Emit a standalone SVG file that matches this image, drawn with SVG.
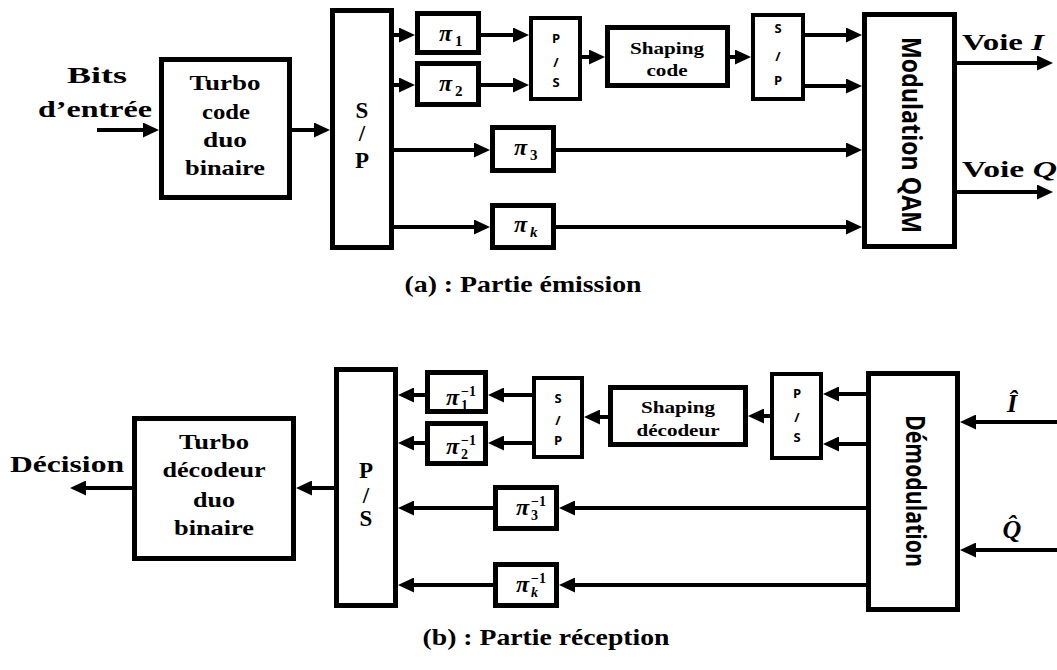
<svg xmlns="http://www.w3.org/2000/svg" width="1057" height="670" viewBox="0 0 1057 670">
<style>
.box{fill:#fff;stroke:#000;stroke-width:5}
.sb{fill:#fff;stroke:#000;stroke-width:4}
.c{fill:none;stroke:#000;stroke-width:4}
.t{font-family:"Liberation Serif","Times New Roman",Tinos,"Nimbus Roman",serif;font-weight:700;fill:#000;text-anchor:middle}
.s{font-family:"Open Sans","Liberation Sans",sans-serif;font-weight:700;fill:#000;text-anchor:middle}
.m{font-family:"Liberation Serif","Times New Roman",Tinos,serif;font-weight:700;font-style:italic;fill:#000}
.n{font-family:"Liberation Serif","Times New Roman",Tinos,serif;font-weight:700;fill:#000}
</style>
<defs>
<marker id="ah" markerUnits="userSpaceOnUse" markerWidth="16" markerHeight="15" refX="8" refY="7.5" orient="auto">
<path d="M0,0 L16,7.5 L0,15 z" fill="#000"/>
</marker>
</defs>
<g id="connectors" class="c" marker-end="url(#ah)">
<path d="M97,130 H151"/>
<path d="M292,130 H322"/>
<path d="M394,35 H407"/>
<path d="M394,85 H407"/>
<path d="M481,35 H521"/>
<path d="M481,85 H521"/>
<path d="M582,57 H597"/>
<path d="M730,57 H743"/>
<path d="M805,35 H854"/>
<path d="M805,86 H854"/>
<path d="M394,150 H482"/>
<path d="M556,150 H854"/>
<path d="M394,227 H482"/>
<path d="M556,227 H854"/>
<path d="M957,63 H1045"/>
<path d="M957,192 H1045"/>
<path d="M132,488 H78"/>
<path d="M334,488 H304"/>
<path d="M425,395 H406"/>
<path d="M425,443 H406"/>
<path d="M532,395 H496"/>
<path d="M532,443 H496"/>
<path d="M608,417 H592"/>
<path d="M770,416 H756"/>
<path d="M866,394 H831"/>
<path d="M866,444 H831"/>
<path d="M866,508 H567"/>
<path d="M493,508 H406"/>
<path d="M866,585 H567"/>
<path d="M493,585 H406"/>
<path d="M1057,422 H968"/>
<path d="M1057,550 H968"/>
</g>
<g id="input-label">
<text class="t" x="97" y="83" font-size="24" textLength="60" lengthAdjust="spacingAndGlyphs">Bits</text>
<text class="t" x="95" y="117" font-size="24" textLength="114" lengthAdjust="spacingAndGlyphs">d’entrée</text>
</g>
<g id="turbo-code">
<rect class="box" x="161.5" y="59.5" width="128" height="138"/>
<text class="t" x="225" y="90" font-size="21" textLength="71" lengthAdjust="spacingAndGlyphs">Turbo</text>
<text class="t" x="226" y="119" font-size="21" textLength="48" lengthAdjust="spacingAndGlyphs">code</text>
<text class="t" x="225" y="147" font-size="21" textLength="44" lengthAdjust="spacingAndGlyphs">duo</text>
<text class="t" x="225" y="175" font-size="21" textLength="80" lengthAdjust="spacingAndGlyphs">binaire</text>
</g>
<g id="sp-emission">
<rect class="box" x="332.5" y="10.5" width="59" height="237"/>
<text class="t" x="362" y="118" font-size="23">S</text>
<text class="t" x="362" y="141" font-size="23">/</text>
<text class="t" x="362" y="168" font-size="23">P</text>
</g>
<g id="pi1">
<rect class="box" x="417.5" y="13.5" width="61" height="39"/>
<text class="m" x="439" y="41" font-size="24">π</text>
<text class="n" x="455" y="46" font-size="15">1</text>
</g>
<g id="pi2">
<rect class="box" x="417.5" y="63.5" width="61" height="41"/>
<text class="m" x="439" y="91" font-size="24">π</text>
<text class="n" x="455" y="96" font-size="15">2</text>
</g>
<g id="ps-small">
<rect class="sb" x="531" y="18" width="49" height="81"/>
<text class="s" x="556" y="43" font-size="13">P</text>
<text class="s" x="556" y="67" font-size="13">/</text>
<text class="s" x="556" y="87" font-size="13">S</text>
</g>
<g id="shaping-code">
<rect class="box" x="607.5" y="27.5" width="120" height="58"/>
<text class="t" x="667" y="54" font-size="17" textLength="74" lengthAdjust="spacingAndGlyphs">Shaping</text>
<text class="t" x="667" y="76" font-size="17" textLength="41" lengthAdjust="spacingAndGlyphs">code</text>
</g>
<g id="sp-small">
<rect class="sb" x="753" y="15" width="50" height="84"/>
<text class="s" x="778" y="33" font-size="13">S</text>
<text class="s" x="778" y="61" font-size="13">/</text>
<text class="s" x="778" y="85" font-size="13">P</text>
</g>
<g id="pi3">
<rect class="box" x="492.5" y="127.5" width="61" height="43"/>
<text class="m" x="514" y="155" font-size="24">π</text>
<text class="n" x="530" y="160" font-size="15">3</text>
</g>
<g id="pik">
<rect class="box" x="492.5" y="205.5" width="61" height="42"/>
<text class="m" x="514" y="232" font-size="24">π</text>
<text class="m" x="530" y="237" font-size="15">k</text>
</g>
<g id="modulation-qam">
<rect class="box" x="864.5" y="14.5" width="90" height="232"/>
<text class="s" transform="translate(902,135) rotate(90)" font-size="26" textLength="196" lengthAdjust="spacingAndGlyphs">Modulation QAM</text>
</g>
<g id="outputs">
<text class="t" x="962" y="50" font-size="24" style="text-anchor:start" textLength="82" lengthAdjust="spacingAndGlyphs">Voie <tspan font-style="italic">I</tspan></text>
<text class="t" x="962" y="177" font-size="24" style="text-anchor:start" textLength="95" lengthAdjust="spacingAndGlyphs">Voie <tspan font-style="italic">Q</tspan></text>
</g>
<g id="caption-a">
<text class="t" x="523" y="292" font-size="24" textLength="237" lengthAdjust="spacingAndGlyphs">(a) : Partie émission</text>
</g>
<g id="decision-label">
<text class="t" x="67" y="472" font-size="24" textLength="114" lengthAdjust="spacingAndGlyphs">Décision</text>
</g>
<g id="turbo-decodeur">
<rect class="box" x="134.5" y="418.5" width="159" height="140"/>
<text class="t" x="214" y="449" font-size="21" textLength="70" lengthAdjust="spacingAndGlyphs">Turbo</text>
<text class="t" x="214" y="477" font-size="21" textLength="103" lengthAdjust="spacingAndGlyphs">décodeur</text>
<text class="t" x="214" y="507" font-size="21" textLength="42" lengthAdjust="spacingAndGlyphs">duo</text>
<text class="t" x="214" y="535" font-size="21" textLength="80" lengthAdjust="spacingAndGlyphs">binaire</text>
</g>
<g id="ps-reception">
<rect class="box" x="336.5" y="369.5" width="59" height="236"/>
<text class="t" x="366" y="478" font-size="23">P</text>
<text class="t" x="366" y="503" font-size="23">/</text>
<text class="t" x="366" y="526" font-size="23">S</text>
</g>
<g id="pi1-inv">
<rect class="box" x="427.5" y="372.5" width="58" height="39"/>
<text class="m" x="446" y="405" font-size="24">π</text>
<text class="n" x="461" y="396" font-size="14">−1</text>
<text class="n" x="461" y="410" font-size="14">1</text>
</g>
<g id="pi2-inv">
<rect class="box" x="427.5" y="423.5" width="58" height="40"/>
<text class="m" x="446" y="454" font-size="24">π</text>
<text class="n" x="461" y="445" font-size="14">−1</text>
<text class="n" x="461" y="459" font-size="14">2</text>
</g>
<g id="sp-reception">
<rect class="sb" x="534" y="378" width="48" height="79"/>
<text class="s" x="558" y="403" font-size="13">S</text>
<text class="s" x="558" y="425" font-size="13">/</text>
<text class="s" x="558" y="445" font-size="13">P</text>
</g>
<g id="shaping-decodeur">
<rect class="box" x="610.5" y="387.5" width="135" height="57"/>
<text class="t" x="678" y="413" font-size="17" textLength="74" lengthAdjust="spacingAndGlyphs">Shaping</text>
<text class="t" x="678" y="436" font-size="17" textLength="83" lengthAdjust="spacingAndGlyphs">décodeur</text>
</g>
<g id="ps-reception-small">
<rect class="sb" x="772" y="374" width="49" height="84"/>
<text class="s" x="797" y="398" font-size="13">P</text>
<text class="s" x="797" y="422" font-size="13">/</text>
<text class="s" x="797" y="442" font-size="13">S</text>
</g>
<g id="pi3-inv">
<rect class="box" x="495.5" y="487.5" width="61" height="41"/>
<text class="m" x="516" y="515" font-size="24">π</text>
<text class="n" x="531" y="506" font-size="14">−1</text>
<text class="n" x="531" y="520" font-size="14">3</text>
</g>
<g id="pik-inv">
<rect class="box" x="495.5" y="564.5" width="61" height="41"/>
<text class="m" x="516" y="592" font-size="24">π</text>
<text class="n" x="531" y="583" font-size="14">−1</text>
<text class="m" x="531" y="597" font-size="14">k</text>
</g>
<g id="demodulation">
<rect class="box" x="868.5" y="373.5" width="89" height="236"/>
<text class="s" transform="translate(906,491) rotate(90)" font-size="26" textLength="152" lengthAdjust="spacingAndGlyphs">Démodulation</text>
</g>
<g id="inputs-rx">
<text class="m" x="1012" y="412" font-size="26" text-anchor="middle">Î</text>
<text class="m" x="1012" y="538" font-size="26" text-anchor="middle">Q̂</text>
</g>
<g id="caption-b">
<text class="t" x="546" y="645" font-size="24" textLength="247" lengthAdjust="spacingAndGlyphs">(b) : Partie réception</text>
</g>
</svg>
